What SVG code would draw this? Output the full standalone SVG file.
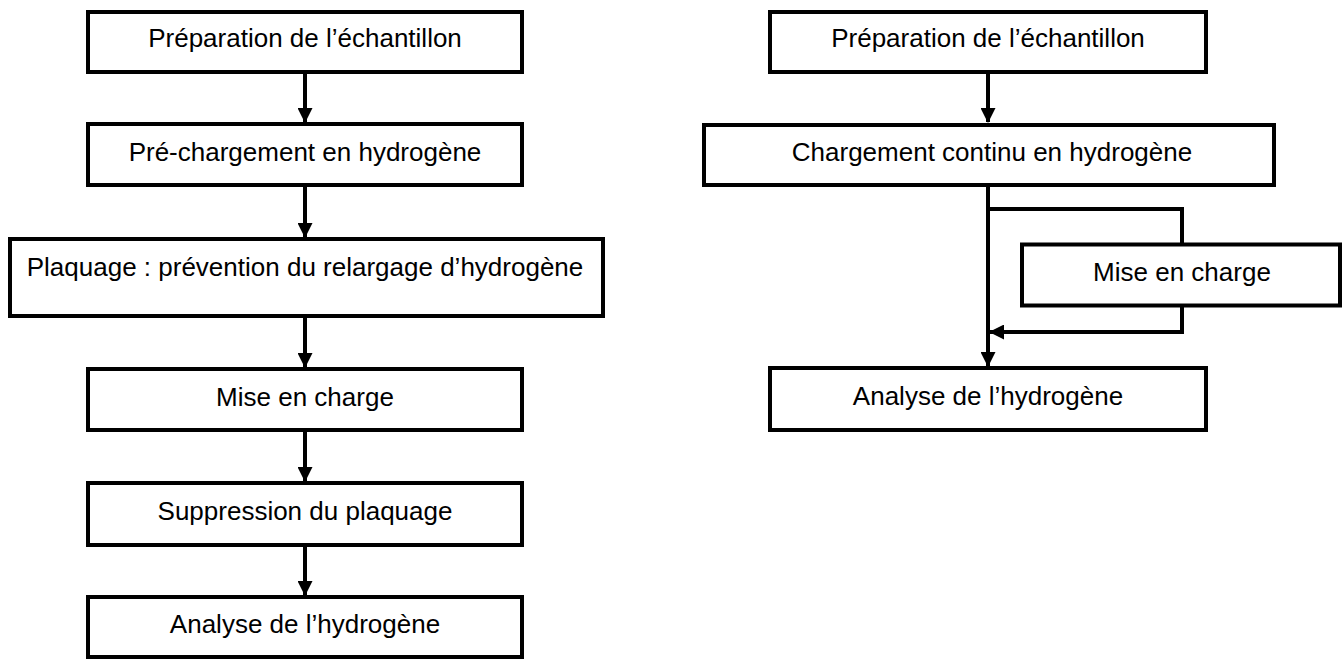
<svg xmlns="http://www.w3.org/2000/svg" width="1342" height="660" viewBox="0 0 1342 660">
<style>
.box{fill:#fff;stroke:#000;stroke-width:4}
.lbl{font-family:"Liberation Sans",Arial,sans-serif;font-size:26px;fill:#000;text-anchor:middle}
.ln{fill:none;stroke:#000;stroke-width:4}
</style>
<defs>
<marker id="ah" markerWidth="15" markerHeight="15" refX="14" refY="7.5" orient="auto" markerUnits="userSpaceOnUse">
<path d="M0,0 L15,7.5 L0,15 Z" fill="#000"/>
</marker>
</defs>
<g id="connectors">
<line class="ln" x1="305" y1="73" x2="305" y2="122" marker-end="url(#ah)"/>
<line class="ln" x1="305" y1="187" x2="305" y2="237" marker-end="url(#ah)"/>
<line class="ln" x1="305" y1="317" x2="305" y2="367" marker-end="url(#ah)"/>
<line class="ln" x1="305" y1="432" x2="305" y2="481" marker-end="url(#ah)"/>
<line class="ln" x1="305" y1="547" x2="305" y2="595" marker-end="url(#ah)"/>
<line class="ln" x1="988" y1="73" x2="988" y2="122" marker-end="url(#ah)"/>
<line class="ln" x1="988" y1="187" x2="988" y2="366" marker-end="url(#ah)"/>
<polyline class="ln" points="988,209 1182,209 1182,243"/>
<polyline class="ln" points="1182,307 1182,332 990,332" marker-end="url(#ah)"/>
</g>
<g id="n1"><rect class="box" x="88" y="12" width="434" height="60"/><text class="lbl" x="305" y="47">Préparation de l’échantillon</text></g>
<g id="n2"><rect class="box" x="88" y="124" width="434" height="61"/><text class="lbl" x="305" y="161">Pré-chargement en hydrogène</text></g>
<g id="n3"><rect class="box" x="10" y="239" width="593" height="77"/><text class="lbl" x="305" y="276">Plaquage : prévention du relargage d’hydrogène</text></g>
<g id="n4"><rect class="box" x="88" y="369" width="434" height="61"/><text class="lbl" x="305" y="406">Mise en charge</text></g>
<g id="n5"><rect class="box" x="88" y="483" width="434" height="62"/><text class="lbl" x="305" y="520">Suppression du plaquage</text></g>
<g id="n6"><rect class="box" x="88" y="597" width="434" height="60"/><text class="lbl" x="305" y="633">Analyse de l’hydrogène</text></g>
<g id="r1"><rect class="box" x="770" y="12" width="436" height="60"/><text class="lbl" x="988" y="47">Préparation de l’échantillon</text></g>
<g id="r2"><rect class="box" x="704" y="125" width="570" height="60"/><text class="lbl" x="992" y="161">Chargement continu en hydrogène</text></g>
<g id="r3"><rect class="box" x="1022" y="244.5" width="318" height="61"/><text class="lbl" x="1182" y="281">Mise en charge</text></g>
<g id="r4"><rect class="box" x="770" y="368" width="436" height="62"/><text class="lbl" x="988" y="405">Analyse de l’hydrogène</text></g>
</svg>
